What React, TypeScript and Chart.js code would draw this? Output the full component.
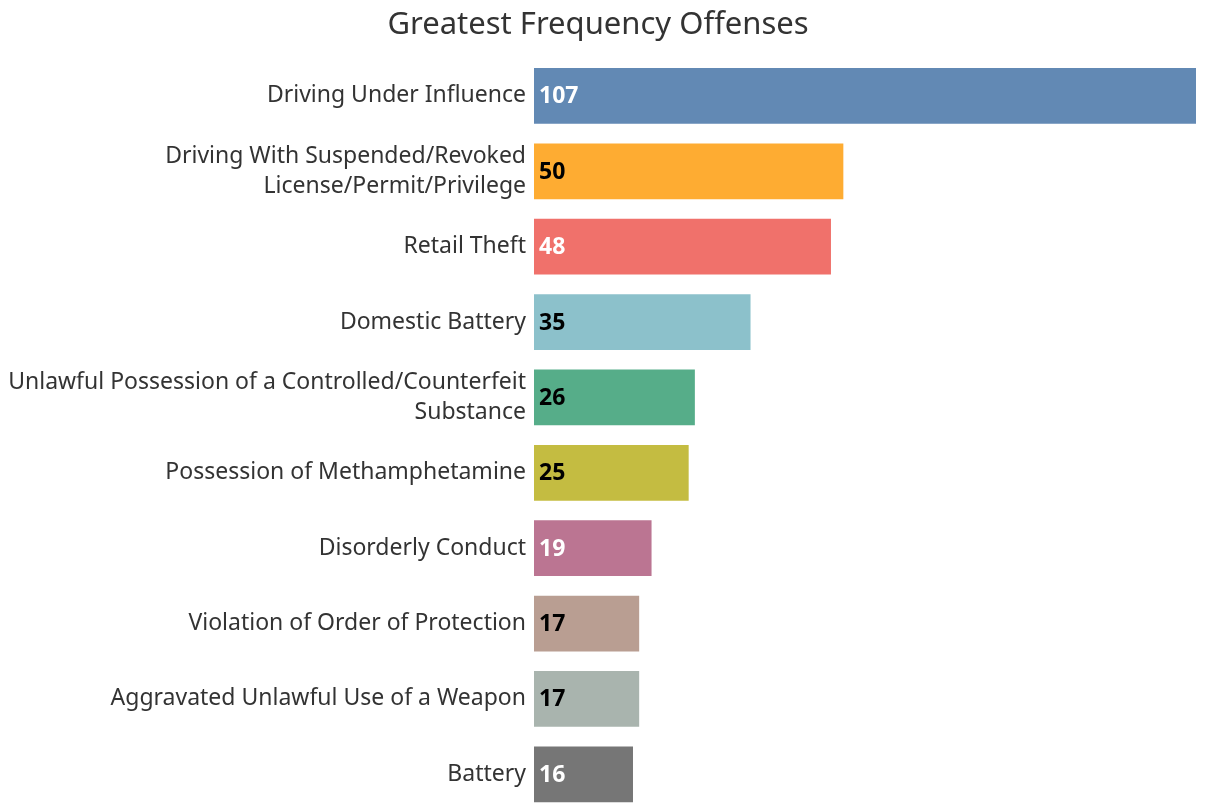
import React, { useEffect, useRef } from "react";
import { Chart, registerables } from "chart.js";

Chart.register(...registerables);

const categories: (string | string[])[] = [
  "Driving Under Influence",
  ["Driving With Suspended/Revoked", "License/Permit/Privilege"],
  "Retail Theft",
  "Domestic Battery",
  ["Unlawful Possession of a Controlled/Counterfeit", "Substance"],
  "Possession of Methamphetamine",
  "Disorderly Conduct",
  "Violation of Order of Protection",
  "Aggravated Unlawful Use of a Weapon",
  "Battery",
];
const counts = [107, 50, 48, 35, 26, 25, 19, 17, 17, 16];
const barColors = [
  "#6289B4", "#FEAC32", "#F0716B", "#8CC1CB", "#56AD89",
  "#C4BC41", "#BB7592", "#B99E92", "#A9B4AE", "#767676",
];
const labelColors = [
  "#FFFFFF", "#000000", "#FFFFFF", "#000000", "#000000",
  "#000000", "#FFFFFF", "#000000", "#000000", "#FFFFFF",
];

const FONT = "'Noto Sans', sans-serif";

const valueLabels = {
  id: "valueLabels",
  afterDatasetsDraw(chart: any) {
    const ctx = chart.ctx;
    const meta = chart.getDatasetMeta(0);
    ctx.save();
    ctx.font = `bold 23px ${FONT}`;
    ctx.textBaseline = "middle";
    ctx.textAlign = "left";
    meta.data.forEach((bar: any, i: number) => {
      ctx.fillStyle = labelColors[i];
      ctx.fillText(String(counts[i]), bar.base + 5, bar.y + 1);
    });
    ctx.restore();
  },
};

export default function App() {
  const ref = useRef<HTMLCanvasElement>(null);
  useEffect(() => {
    if (!ref.current) return;
    const chart = new Chart(ref.current, {
      type: "bar",
      data: {
        labels: categories as any,
        datasets: [
          {
            data: counts,
            backgroundColor: barColors,
            borderWidth: 0,
            barPercentage: 0.74,
            categoryPercentage: 1,
          },
        ],
      },
      options: {
        indexAxis: "y",
        animation: false,
        responsive: false,
        maintainAspectRatio: false,
        layout: { padding: { left: 0, right: 29, top: 0, bottom: 0 } },
        plugins: {
          legend: { display: false },
          tooltip: { enabled: false },
          title: {
            display: true,
            text: "Greatest Frequency Offenses",
            color: "#333333",
            font: { family: FONT, size: 31, weight: "normal" as any, lineHeight: 1.2 },
            padding: { top: 7, bottom: 14 },
          },
        },
        scales: {
          x: {
            display: false,
            min: 0,
            max: 107,
          },
          y: {
            grid: { display: false, drawTicks: false },
            border: { display: false },
            ticks: {
              color: "#333333",
              padding: 8,
              font: { family: FONT, size: 23, lineHeight: 1.3 },
            },
            afterFit(scale: any) {
              scale.width = 534;
              scale.paddingTop = 0;
              scale.paddingBottom = 0;
            },
          },
        },
      },
      plugins: [valueLabels],
    });
    return () => chart.destroy();
  }, []);
  return (
    <div
      style={{
        position: "fixed",
        top: 0,
        left: 0,
        width: 1225,
        height: 803,
        overflow: "hidden",
        background: "#fff",
      }}
    >
      <canvas ref={ref} width={1225} height={812} style={{ display: "block" }} />
    </div>
  );
}
